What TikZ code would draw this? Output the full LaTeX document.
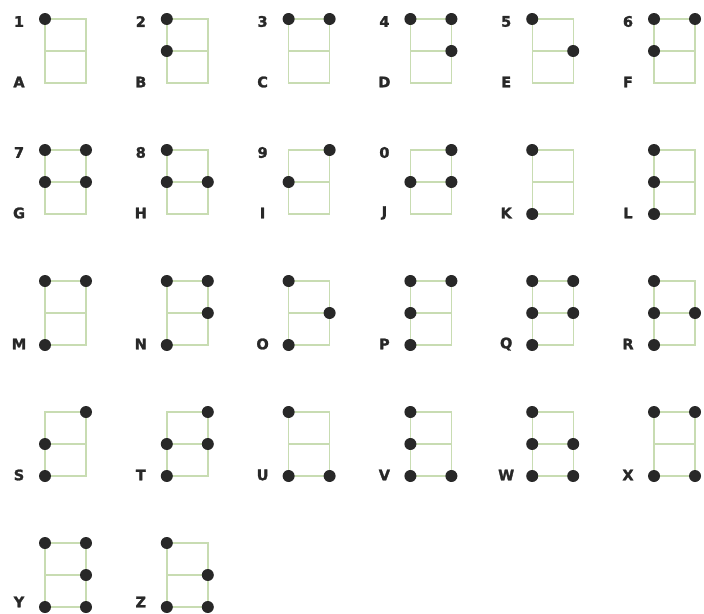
\documentclass[tikz,border=0pt]{standalone}
\usepackage{fontspec}
\setmainfont{DejaVu Sans}
\newfontfamily\heavyfont[FakeBold=1.8]{DejaVu Sans Bold}
\definecolor{gridgreen}{RGB}{200,220,178}
\definecolor{dotgray}{RGB}{40,40,40}
\tikzset{
  cellline/.style={draw=gridgreen, line width=1.4pt},
  dot/.style={circle, fill=dotgray, inner sep=0pt, minimum size=12pt},
  lbl/.style={font=\heavyfont\fontsize{14.5}{14.5}\selectfont, text=dotgray, inner sep=0pt}
}
\begin{document}
\begin{tikzpicture}[x=1pt,y=-1pt]
\useasboundingbox (0,0) rectangle (704,613);
\foreach \L/\c/\r/\pts in {
  A/0/0/{1}, B/1/0/{1,2}, C/2/0/{1,4}, D/3/0/{1,4,5}, E/4/0/{1,5}, F/5/0/{1,2,4},
  G/0/1/{1,2,4,5}, H/1/1/{1,2,5}, I/2/1/{2,4}, J/3/1/{2,4,5}, K/4/1/{1,3}, L/5/1/{1,2,3},
  M/0/2/{1,3,4}, N/1/2/{1,3,4,5}, O/2/2/{1,3,5}, P/3/2/{1,2,3,4}, Q/4/2/{1,2,3,4,5}, R/5/2/{1,2,3,5},
  S/0/3/{2,3,4}, T/1/3/{2,3,4,5}, U/2/3/{1,3,6}, V/3/3/{1,2,3,6}, W/4/3/{1,2,3,5,6}, X/5/3/{1,3,4,6},
  Y/0/4/{1,3,4,5,6}, Z/1/4/{1,3,5,6}}{
  \pgfmathsetmacro\x{45+121.8*\c}
  \pgfmathsetmacro\y{19+131*\r}
  \pgfmathsetmacro\ly{\r==4 ? \y+59 : \y+63}
  \coordinate (\L1) at (\x,\y);
  \coordinate (\L2) at (\x,\y+32);
  \coordinate (\L3) at (\x,\y+64);
  \coordinate (\L4) at (\x+41,\y);
  \coordinate (\L5) at (\x+41,\y+32);
  \coordinate (\L6) at (\x+41,\y+64);
  \draw[cellline] (\L1) -- (\L3) -- (\L6) -- (\L4) -- cycle;
  \draw[cellline] (\L2) -- (\L5);
  \foreach \p in \pts {\node[dot] (\L d\p) at (\L\p) {};}
  \node[lbl] (\L lab) at (\x-26,\ly) {\L};
}
\foreach \L/\n in {A/1,B/2,C/3,D/4,E/5,F/6,G/7,H/8,I/9,J/0}{
  \node[lbl] (\L num) at ([xshift=-26pt,yshift=-2.5pt]\L1) {\n};
}
\end{tikzpicture}
\end{document}
